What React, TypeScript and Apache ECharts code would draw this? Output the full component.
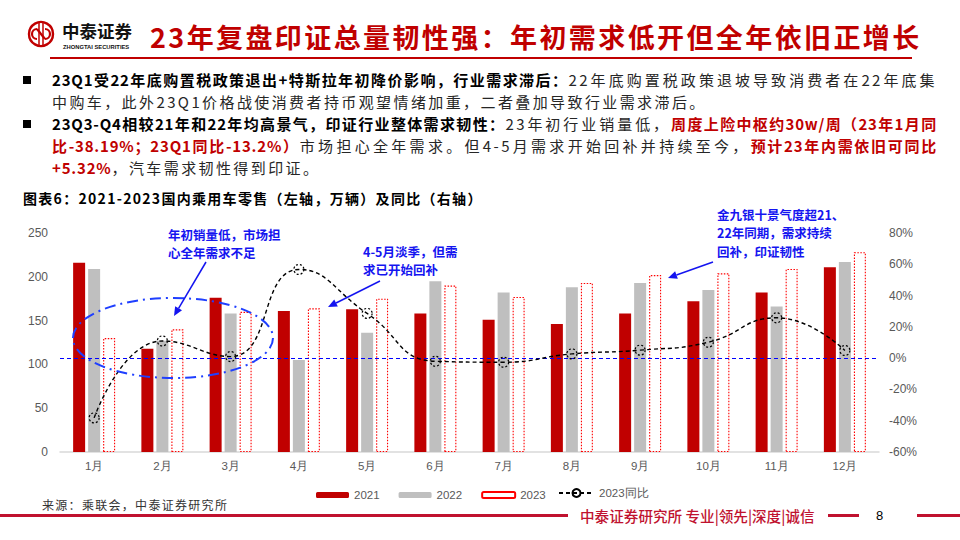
import React, { useEffect, useRef } from "react";
import * as echarts from "echarts";

const months = ["1月", "2月", "3月", "4月", "5月", "6月", "7月", "8月", "9月", "10月", "11月", "12月"];
const sales2021 = [216, 118, 176, 161, 163, 158, 151, 146, 158, 172, 182, 211];
const sales2022 = [209, 127, 158, 105, 136, 195, 182, 188, 193, 185, 166, 217];
const sales2023 = [130, 140, 160, 164, 175, 190, 177, 193, 202, 204, 209, 228];
const yoy2023 = [-38.19, 11, 1, 56.7, 28.6, -2, -2.6, 2.7, 5.1, 10.2, 25.8, 4.9];

const seriesNames = ["2021", "2022", "2023", "2023同比"];
const leftAxis = { min: 0, max: 250, interval: 50 };
const rightAxis = { min: -60, max: 80, interval: 20 };

const titleText = "23年复盘印证总量韧性强：年初需求低开但全年依旧正增长";
const chartTitle = "图表6：2021-2023国内乘用车零售（左轴，万辆）及同比（右轴）";
const sourceText = "来源：乘联会，中泰证券研究所";
const footerText = "中泰证券研究所 专业|领先|深度|诚信";
const pageNo = "8";

const ann1 = "年初销量低，市场担\n心全年需求不足";
const ann2 = "4-5月淡季，但需\n求已开始回补";
const ann3 = "金九银十景气度超21、\n22年同期，需求持续\n回补，印证韧性";

type Seg = [string, string];
const bulletLines: { segs: Seg[]; justify: boolean }[] = [
  {
    segs: [
      ["B", "23Q1受22年底购置税政策退出+特斯拉年初降价影响，行业需求滞后："],
      ["N", "22年底购置税政策退坡导致消费者在22年底集"],
    ],
    justify: true,
  },
  { segs: [["N", "中购车，此外23Q1价格战使消费者持币观望情绪加重，二者叠加导致行业需求滞后。"]], justify: false },
  {
    segs: [
      ["B", "23Q3-Q4相较21年和22年均高景气，印证行业整体需求韧性："],
      ["N", "23年初行业销量低，"],
      ["R", "周度上险中枢约30w/周（23年1月同"],
    ],
    justify: true,
  },
  {
    segs: [
      ["R", "比-38.19%；23Q1同比-13.2%）"],
      ["N", "市场担心全年需求。但4-5月需求开始回补并持续至今，"],
      ["R", "预计23年内需依旧可同比"],
    ],
    justify: true,
  },
  { segs: [["R", "+5.32%"], ["N", "，汽车需求韧性得到印证。"]], justify: false },
];

const CJK = '"Noto Sans CJK SC", "Noto Sans", sans-serif';
const LAT = '"Liberation Sans", Arial, sans-serif';
const BLUE = "#1414F0";
const RED = "#C00000";

function arrow(x1: number, y1: number, x2: number, y2: number) {
  const dx = x2 - x1;
  const dy = y2 - y1;
  const len = Math.sqrt(dx * dx + dy * dy);
  const ux = dx / len;
  const uy = dy / len;
  const hl = 9;
  const hw = 4;
  const bx = x2 - ux * hl;
  const by = y2 - uy * hl;
  return [
    { type: "line", shape: { x1, y1, x2: bx, y2: by }, style: { stroke: BLUE, lineWidth: 1.5 }, z: 100 },
    {
      type: "polygon",
      shape: {
        points: [
          [x2, y2],
          [bx - uy * hw, by + ux * hw],
          [bx + uy * hw, by - ux * hw],
        ],
      },
      style: { fill: BLUE },
      z: 100,
    },
  ];
}

function annText(text: string, x: number, y: number, size: number) {
  return {
    type: "text",
    x,
    y,
    z: 100,
    style: {
      text,
      fill: BLUE,
      fontSize: size,
      fontWeight: "bold",
      fontFamily: CJK,
      lineHeight: 18.5,
      textVerticalAlign: "top",
    },
  };
}

export default function App() {
  const ref = useRef<HTMLDivElement>(null);

  useEffect(() => {
    if (!ref.current) return;
    const chart = echarts.init(ref.current, null, { renderer: "svg" });
    const axisLabelStyle = { color: "#595959", fontSize: 12, fontFamily: LAT };
    chart.setOption({
      animation: false,
      backgroundColor: "transparent",
      grid: { left: 60, right: 81, top: 233, bottom: 88, containLabel: false },
      legend: [
        {
          data: seriesNames.slice(0, 3),
          left: 311,
          top: 484,
          itemWidth: 33,
          itemHeight: 6,
          itemGap: 19,
          textStyle: { color: "#595959", fontSize: 11.5, fontFamily: LAT },
        },
        {
          data: [seriesNames[3]],
          left: 553,
          top: 482,
          itemWidth: 35,
          itemHeight: 10,
          textStyle: { color: "#595959", fontSize: 11.5, fontFamily: LAT },
        },
      ],
      xAxis: {
        type: "category",
        data: months,
        axisLine: { lineStyle: { color: "#D9D9D9", width: 1.5 } },
        axisTick: { show: false },
        axisLabel: { ...axisLabelStyle, fontSize: 11.5, margin: 8 },
      },
      yAxis: [
        {
          type: "value",
          min: leftAxis.min,
          max: leftAxis.max,
          interval: leftAxis.interval,
          splitLine: { show: false },
          axisLine: { show: false },
          axisTick: { show: false },
          axisLabel: { ...axisLabelStyle, margin: 12 },
        },
        {
          type: "value",
          min: rightAxis.min,
          max: rightAxis.max,
          interval: rightAxis.interval,
          splitLine: { show: false },
          axisLine: { show: false },
          axisTick: { show: false },
          axisLabel: { ...axisLabelStyle, margin: 10, formatter: "{value}%" },
        },
      ],
      series: [
        {
          name: seriesNames[0],
          type: "bar",
          data: sales2021,
          barWidth: 12,
          barGap: "25%",
          itemStyle: { color: RED },
        },
        {
          name: seriesNames[1],
          type: "bar",
          data: sales2022,
          barWidth: 12,
          barGap: "25%",
          itemStyle: { color: "#BFBFBF" },
        },
        {
          name: seriesNames[2],
          type: "bar",
          data: sales2023,
          barWidth: 12,
          barGap: "25%",
          itemStyle: { color: "#FFFFFF", borderColor: "#FF0000", borderWidth: 1.1, borderType: [1.5, 1.5] },
        },
        {
          name: seriesNames[3],
          type: "line",
          yAxisIndex: 1,
          data: yoy2023,
          smooth: 0.5,
          symbol: "circle",
          symbolSize: 10,
          z: 5,
          lineStyle: { color: "#000", width: 1.4, type: [4, 3] },
          itemStyle: {
            color: "rgba(255,255,255,0)",
            borderColor: "#000",
            borderWidth: 1.2,
            borderType: [2, 2],
          },
          markLine: {
            silent: true,
            symbol: "none",
            label: { show: false },
            lineStyle: { color: "#0000FF", type: [4, 3], width: 1 },
            data: [{ yAxis: 0 }],
          },
        },
      ],
      graphic: [
        // logo
        { type: "circle", shape: { cx: 41, cy: 34, r: 12 }, style: { fill: "none", stroke: RED, lineWidth: 2.4 } },
        { type: "arc", shape: { cx: 37, cy: 34, r: 5, startAngle: Math.PI * 0.5, endAngle: Math.PI * 1.5 }, style: { fill: "none", stroke: RED, lineWidth: 2.2 } },
        { type: "arc", shape: { cx: 45, cy: 34, r: 5, startAngle: -Math.PI * 0.5, endAngle: Math.PI * 0.5 }, style: { fill: "none", stroke: RED, lineWidth: 2.2 } },
        { type: "line", shape: { x1: 37, y1: 29, x2: 45, y2: 39 }, style: { stroke: RED, lineWidth: 2.2 } },
        { type: "line", shape: { x1: 39, y1: 23, x2: 39, y2: 45 }, style: { stroke: RED, lineWidth: 1.5 } },
        { type: "line", shape: { x1: 43, y1: 23, x2: 43, y2: 45 }, style: { stroke: RED, lineWidth: 1.5 } },
        {
          type: "text",
          x: 62,
          y: 30,
          style: { text: "中泰证券", fill: "#111", fontSize: 17.5, fontWeight: "bold", fontFamily: CJK, textVerticalAlign: "middle" },
        },
        {
          type: "text",
          x: 63,
          y: 46.5,
          style: { text: "ZHONGTAI SECURITIES", fill: "#111", fontSize: 5.8, fontWeight: "bold", fontFamily: LAT, textVerticalAlign: "middle" },
        },
        // ellipse
        {
          type: "ellipse",
          shape: { cx: 173, cy: 338, rx: 100, ry: 40 },
          style: { fill: "none", stroke: "#1F3FFF", lineWidth: 2, lineDash: [11, 5, 2, 5] },
          z: 100,
        },
        annText(ann1, 168, 225, 12.5),
        annText(ann2, 363, 242, 12.5),
        annText(ann3, 717, 205, 12.5),
        ...arrow(206, 262, 174, 316),
        ...arrow(380, 281, 328, 307),
        ...arrow(713, 262, 668, 278),
      ],
    });
    return () => chart.dispose();
  }, []);

  const segStyle = (k: string): React.CSSProperties => {
    if (k === "B") return { fontWeight: 700, color: "#000", letterSpacing: "0.8px" };
    if (k === "R") return { fontWeight: 700, color: RED, letterSpacing: "0.8px" };
    return { fontWeight: 400, color: "#262626", letterSpacing: "2.4px" };
  };

  return (
    <div
      style={{
        position: "absolute",
        left: 0,
        top: 0,
        width: 960,
        height: 540,
        background: "#fff",
        overflow: "hidden",
        fontFamily: CJK,
      }}
    >
      <div ref={ref} style={{ position: "absolute", left: 0, top: 0, width: 960, height: 540 }} />
      {/* header title */}
      <div
        style={{
          position: "absolute",
          left: 150,
          top: 20,
          height: 34,
          lineHeight: "34px",
          fontSize: 27,
          fontWeight: 700,
          color: RED,
          letterSpacing: "2.4px",
          whiteSpace: "nowrap",
        }}
      >
        {titleText}
      </div>
      <div style={{ position: "absolute", left: 50, top: 57, width: 862, height: 2, background: RED }} />
      {/* bullets */}
      {[0, 2].map((i) => (
        <div
          key={"sq" + i}
          style={{ position: "absolute", left: 23, top: 69 + i * 22 + 7, width: 8, height: 8, background: "#000" }}
        />
      ))}
      {bulletLines.map((ln, i) => (
        <div
          key={"ln" + i}
          style={{
            position: "absolute",
            left: 52,
            top: 69 + i * 22,
            width: 885,
            height: 22,
            lineHeight: "22px",
            fontSize: 15,
            textAlign: ln.justify ? "justify" : "left",
            textAlignLast: ln.justify ? "justify" : "left",
          }}
        >
          {ln.segs.map((s, j) => (
            <span key={j} style={segStyle(s[0])}>
              {s[1]}
            </span>
          ))}
        </div>
      ))}
      {/* chart title */}
      <div
        style={{
          position: "absolute",
          left: 23,
          top: 188,
          lineHeight: "20px",
          fontSize: 14,
          fontWeight: 700,
          color: "#000",
          letterSpacing: "1.3px",
          whiteSpace: "nowrap",
        }}
      >
        {chartTitle}
      </div>
      {/* footer */}
      <div
        style={{
          position: "absolute",
          left: 42,
          top: 496,
          lineHeight: "18px",
          fontSize: 12,
          color: "#333",
          letterSpacing: "1.3px",
          whiteSpace: "nowrap",
        }}
      >
        {sourceText}
      </div>
      <div style={{ position: "absolute", left: 0, top: 514, width: 568, height: 3, background: "#C0122F" }} />
      <div
        style={{
          position: "absolute",
          left: 580,
          top: 506,
          lineHeight: "20px",
          fontSize: 14.6,
          color: "#C0122F",
          fontWeight: 500,
          whiteSpace: "nowrap",
        }}
      >
        {footerText}
      </div>
      <div style={{ position: "absolute", left: 828, top: 514, width: 31, height: 3, background: "#C0122F" }} />
      <div
        style={{
          position: "absolute",
          left: 876,
          top: 506,
          lineHeight: "20px",
          fontSize: 13,
          color: "#000",
          fontFamily: LAT,
        }}
      >
        {pageNo}
      </div>
      <div style={{ position: "absolute", left: 917, top: 514, width: 43, height: 3, background: "#C0122F" }} />
    </div>
  );
}
